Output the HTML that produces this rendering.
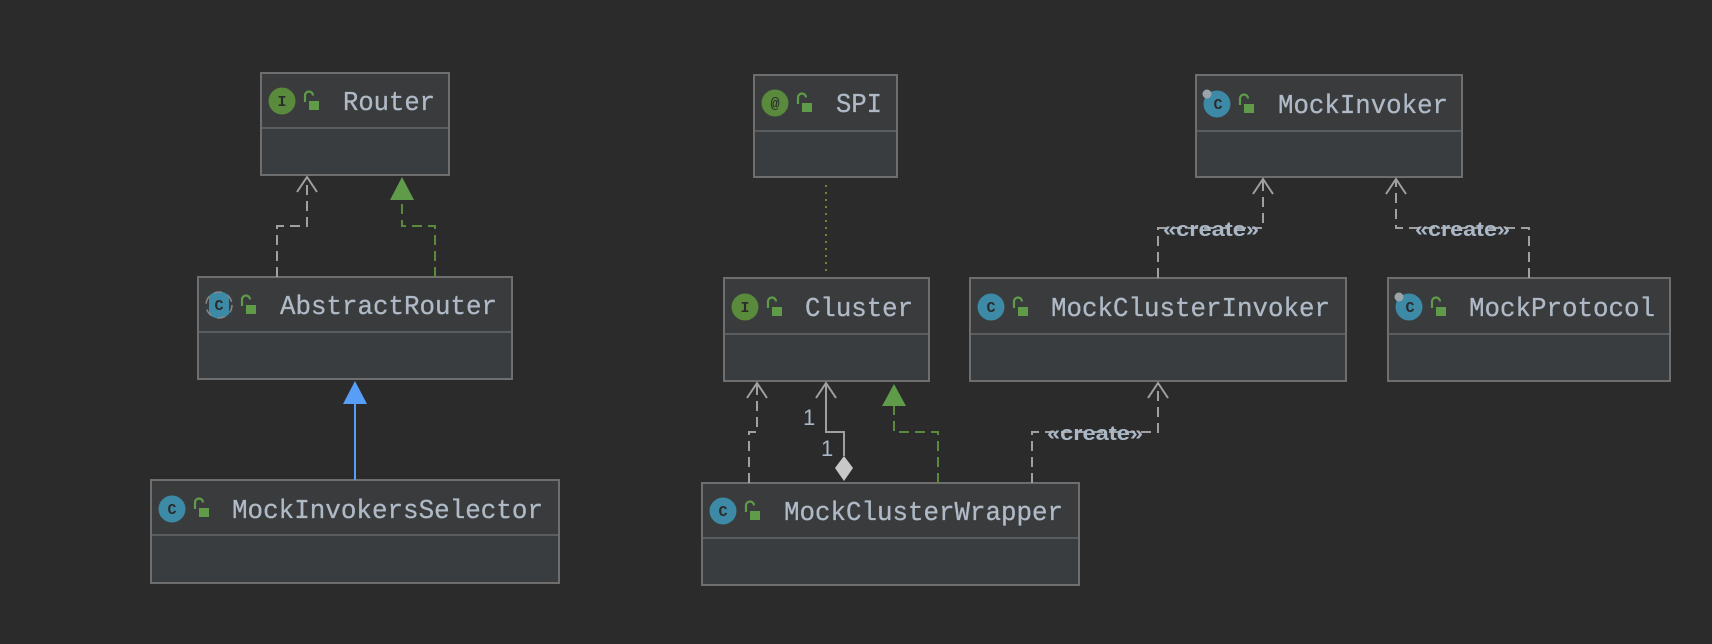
<!DOCTYPE html>
<html><head><style>
html,body{margin:0;padding:0;background:#2b2b2b;}
svg{display:block;}
.t{font-family:"Liberation Mono","DejaVu Sans Mono",monospace;font-size:27px;fill:#afbac6;stroke:#afbac6;stroke-width:0.3;}
.c{font-family:"Liberation Sans","DejaVu Sans",sans-serif;font-size:20px;font-weight:bold;fill:#a9b7c6;}
.n{font-family:"Liberation Sans",sans-serif;font-size:22px;fill:#a9b7c6;}
.ic{font-family:"Liberation Mono",monospace;font-size:15px;font-weight:bold;fill:#2b2b2b;}
</style></head><body>
<svg width="1712" height="644" viewBox="0 0 1712 644" xmlns="http://www.w3.org/2000/svg">
<rect width="1712" height="644" fill="#2b2b2b"/>
<defs>
<g id="lock"><path d="M0 9 V2.5 A4 4 0 0 1 8 2.5" fill="none" stroke="#5f9b48" stroke-width="2.2"/><rect x="4" y="8" width="10" height="9" fill="#5f9b48"/></g>
</defs>

<g stroke="#6e6e6e" stroke-width="2">
<rect x="261" y="73" width="188" height="102" fill="#3a3d3f"/>
<rect x="198" y="277" width="314" height="102" fill="#3a3d3f"/>
<rect x="151" y="480" width="408" height="103" fill="#3a3d3f"/>
<rect x="754" y="75" width="143" height="102" fill="#3a3d3f"/>
<rect x="724" y="278" width="205" height="103" fill="#3a3d3f"/>
<rect x="702" y="483" width="377" height="102" fill="#3a3d3f"/>
<rect x="970" y="278" width="376" height="103" fill="#3a3d3f"/>
<rect x="1388" y="278" width="282" height="103" fill="#3a3d3f"/>
<rect x="1196" y="75" width="266" height="102" fill="#3a3d3f"/>
</g>
<g fill="#393b3d">
<rect x="262" y="74" width="186" height="54"/>
<rect x="199" y="278" width="312" height="54"/>
<rect x="152" y="481" width="406" height="54"/>
<rect x="755" y="76" width="141" height="55"/>
<rect x="725" y="279" width="203" height="55"/>
<rect x="703" y="484" width="375" height="54"/>
<rect x="971" y="279" width="374" height="55"/>
<rect x="1389" y="279" width="280" height="55"/>
<rect x="1197" y="76" width="264" height="55"/>
</g>
<g stroke="#5a5d5f" stroke-width="2">
<line x1="262" y1="128" x2="448" y2="128"/>
<line x1="199" y1="332" x2="511" y2="332"/>
<line x1="152" y1="535" x2="558" y2="535"/>
<line x1="755" y1="131" x2="896" y2="131"/>
<line x1="725" y1="334" x2="928" y2="334"/>
<line x1="703" y1="538" x2="1078" y2="538"/>
<line x1="971" y1="334" x2="1345" y2="334"/>
<line x1="1389" y1="334" x2="1669" y2="334"/>
<line x1="1197" y1="131" x2="1461" y2="131"/>
</g>

<circle cx="282" cy="101" r="13.5" fill="#5a8a3c"/><text class="ic" x="282" y="106" text-anchor="middle">I</text>
<use href="#lock" x="305" y="93"/>
<circle cx="219" cy="305" r="13.5" fill="#3d8aa6"/><rect x="205" y="291" width="4" height="28" fill="#3a3d3f"/><rect x="229" y="291" width="4" height="28" fill="#3a3d3f"/><circle cx="219" cy="305" r="13" fill="none" stroke="#888" stroke-width="1.5" stroke-dasharray="8 6"/><text class="ic" x="219" y="310" text-anchor="middle">C</text>
<use href="#lock" x="242" y="297"/>
<circle cx="172" cy="509" r="13.5" fill="#3d8aa6"/><text class="ic" x="172" y="514" text-anchor="middle">C</text>
<use href="#lock" x="195" y="500"/>
<circle cx="775" cy="103" r="13.5" fill="#5a8a3c"/><text class="ic" x="775" y="108" text-anchor="middle">@</text>
<use href="#lock" x="798" y="95"/>
<circle cx="745" cy="307" r="13.5" fill="#5a8a3c"/><text class="ic" x="745" y="312" text-anchor="middle">I</text>
<use href="#lock" x="768" y="299"/>
<circle cx="723" cy="511" r="13.5" fill="#3d8aa6"/><text class="ic" x="723" y="516" text-anchor="middle">C</text>
<use href="#lock" x="746" y="503"/>
<circle cx="991" cy="307" r="13.5" fill="#3d8aa6"/><text class="ic" x="991" y="312" text-anchor="middle">C</text>
<use href="#lock" x="1014" y="299"/>
<circle cx="1409" cy="307" r="13.5" fill="#3d8aa6"/><circle cx="1399" cy="297" r="4.5" fill="#9aa4aa"/><text class="ic" x="1410" y="312" text-anchor="middle">C</text>
<use href="#lock" x="1432" y="299"/>
<circle cx="1217" cy="104" r="13.5" fill="#3d8aa6"/><circle cx="1207" cy="94" r="4.5" fill="#9aa4aa"/><text class="ic" x="1218" y="109" text-anchor="middle">C</text>
<use href="#lock" x="1240" y="96"/>

<text class="t" x="343" y="110" textLength="92" lengthAdjust="spacingAndGlyphs">Router</text>
<text class="t" x="280" y="314" textLength="217" lengthAdjust="spacingAndGlyphs">AbstractRouter</text>
<text class="t" x="232" y="518" textLength="311" lengthAdjust="spacingAndGlyphs">MockInvokersSelector</text>
<text class="t" x="836" y="112" textLength="46" lengthAdjust="spacingAndGlyphs">SPI</text>
<text class="t" x="805" y="316" textLength="108" lengthAdjust="spacingAndGlyphs">Cluster</text>
<text class="t" x="784" y="520" textLength="279" lengthAdjust="spacingAndGlyphs">MockClusterWrapper</text>
<text class="t" x="1051" y="316" textLength="279" lengthAdjust="spacingAndGlyphs">MockClusterInvoker</text>
<text class="t" x="1469" y="316" textLength="186" lengthAdjust="spacingAndGlyphs">MockProtocol</text>
<text class="t" x="1278" y="113" textLength="170" lengthAdjust="spacingAndGlyphs">MockInvoker</text>

<g fill="none" stroke-width="2">
<polyline points="277,277 277,226 307,226 307,178" stroke="#a0a0a0" stroke-dasharray="10 6"/>
<polyline points="297,192 307,177 317,192" stroke="#a0a0a0"/>
<polyline points="435,277 435,226 402,226 402,200" stroke="#5a8a3c" stroke-dasharray="10 6"/>
<line x1="355" y1="480" x2="355" y2="402" stroke="#589df6"/>
<line x1="826" y1="185" x2="826" y2="276" stroke="#6a8a2a" stroke-dasharray="2 5"/>
<polyline points="749,483 749,432 757,432 757,384" stroke="#a0a0a0" stroke-dasharray="10 6"/>
<polyline points="747,398 757,383 767,398" stroke="#a0a0a0"/>
<polyline points="844,456 844,432 826,432 826,384" stroke="#a0a0a0"/>
<polyline points="816,398 826,383 836,398" stroke="#a0a0a0"/>
<polyline points="938,483 938,432 894,432 894,406" stroke="#5a8a3c" stroke-dasharray="10 6"/>
<polyline points="1032,483 1032,432 1158,432 1158,384" stroke="#a0a0a0" stroke-dasharray="10 6"/>
<polyline points="1148,398 1158,383 1168,398" stroke="#a0a0a0"/>
<polyline points="1158,278 1158,228 1263,228 1263,180" stroke="#a0a0a0" stroke-dasharray="10 6"/>
<polyline points="1253,194 1263,179 1273,194" stroke="#a0a0a0"/>
<polyline points="1529,278 1529,228 1396,228 1396,180" stroke="#a0a0a0" stroke-dasharray="10 6"/>
<polyline points="1386,194 1396,179 1406,194" stroke="#a0a0a0"/>
</g>
<polygon points="402,177 390,200 414,200" fill="#5f9b48"/>
<polygon points="355,381 343,404 367,404" fill="#589df6"/>
<polygon points="894,384 882,406 906,406" fill="#5f9b48"/>
<polygon points="844,456 853,468 844,481 835,468" fill="#c8c8c8"/>
<text class="n" x="803" y="425">1</text>
<text class="n" x="821" y="456">1</text>
<text class="c" x="1163" y="236" textLength="96" lengthAdjust="spacingAndGlyphs">«create»</text>
<text class="c" x="1415" y="236" textLength="95" lengthAdjust="spacingAndGlyphs">«create»</text>
<text class="c" x="1047" y="440" textLength="96" lengthAdjust="spacingAndGlyphs">«create»</text>
</svg>
</body></html>
